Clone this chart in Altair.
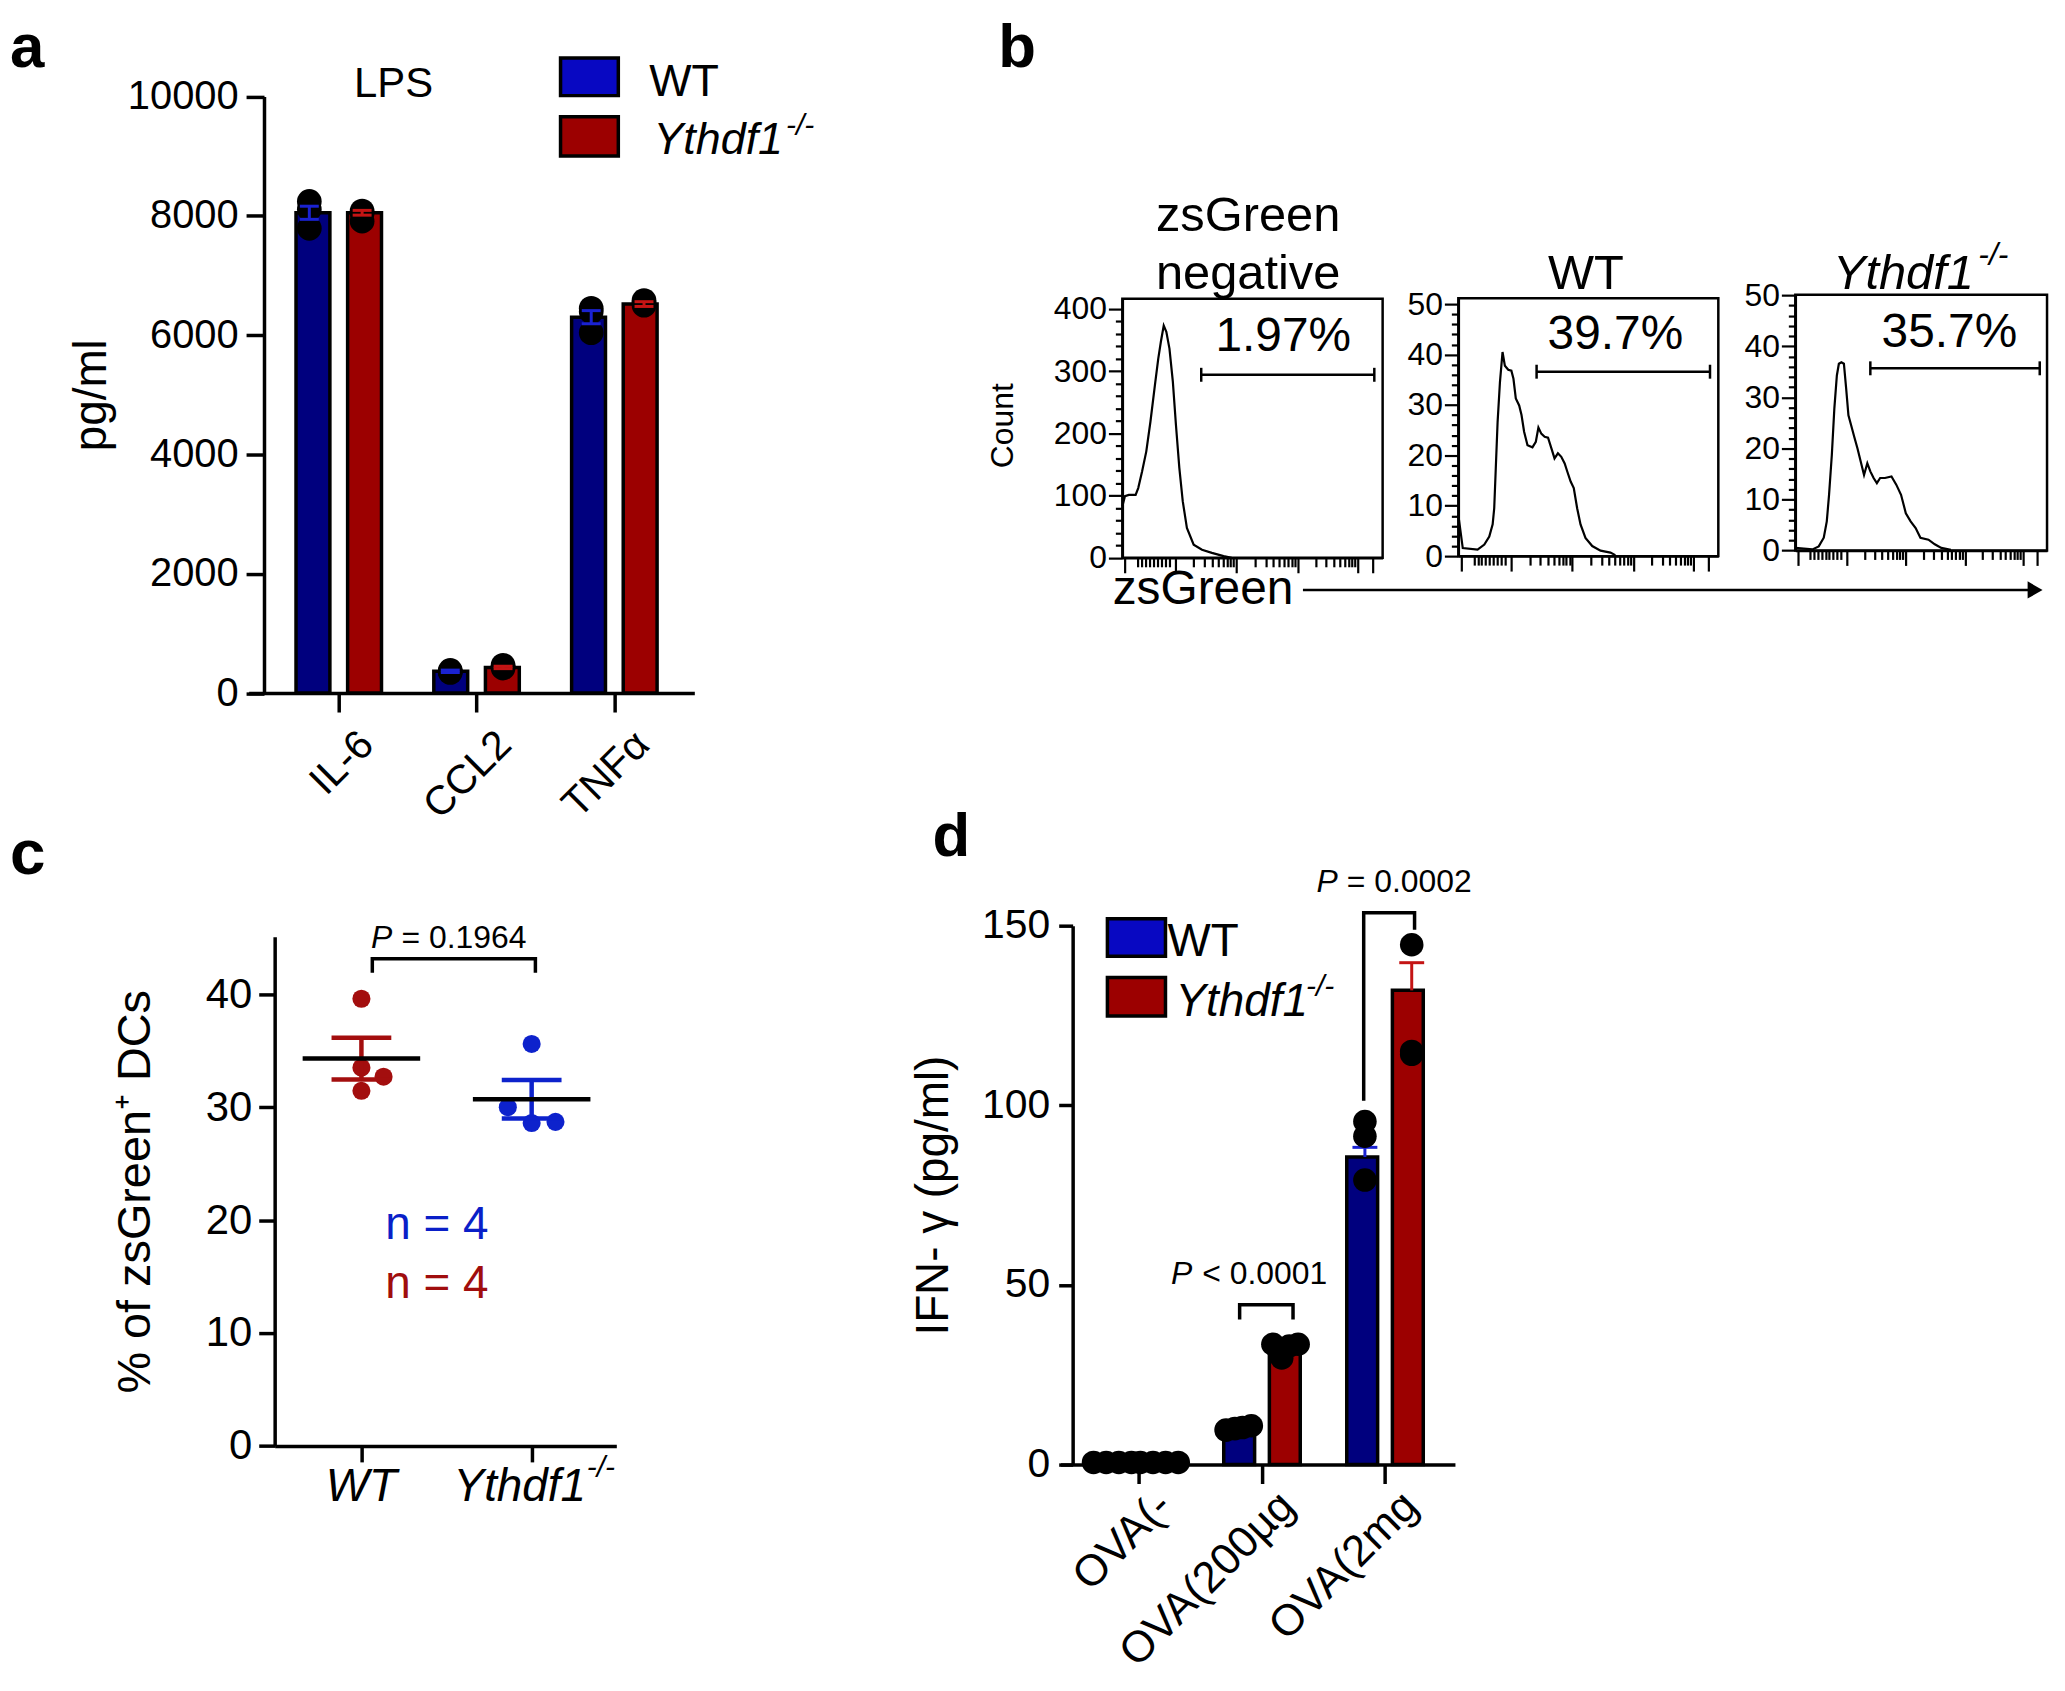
import json, math
import altair as alt
import pandas as pd

# ---------------- canvas / layout helpers ----------------
W, H = 2057, 1675
M = 8
def cx(v): return v - M
def cy(v): return v - M

FONT = "Liberation Sans"
WT_BAR, KO_BAR = "#00007e", "#9c0000"
WT_SW, KO_SW = "#0808c2", "#9c0000"
WT_ERR, KO_ERR = "#1a22d2", "#c41414"
BLUE_DOT, RED_DOT = "#0d22cc", "#a30e0e"

ONE = alt.Data(values=[{"k": 0}])

# ================= DATA =================
# ---- panel a ----
a_cats = ["IL-6", "CCL2", "TNFα"]
a_groups = ["WT", "KO"]
a_wt = [8050, 365, 6300]
a_ko = [8050, 430, 6520]
a_wt_hi = [8160, 385, 6410]
a_ko_hi = [8090, 450, 6560]
a_wt_pts = [[8240, 8110, 7790], [380, 360, 345], [6450, 6390, 6040]]
a_ko_pts = [[8080, 8040, 7910], [465, 440, 420], [6580, 6540, 6500]]

# ---- panel b (histograms, x = fraction of axis, y = count) ----
neg_x = [0, 0.01, 0.025, 0.051, 0.061, 0.076, 0.092, 0.108, 0.125, 0.138, 0.148, 0.159, 0.169, 0.181,
         0.194, 0.206, 0.219, 0.232, 0.248, 0.274, 0.306, 0.344, 0.389, 0.42]
neg_y = [83, 99, 101, 101, 112, 139, 171, 219, 277, 320, 347, 373, 363, 336,
         283, 213, 144, 91, 48, 21, 13, 8, 2.7, 0]
wt_x = [0, 0.017, 0.074, 0.1, 0.119, 0.132, 0.138, 0.144, 0.151, 0.16, 0.17, 0.179, 0.192, 0.204,
        0.212, 0.221, 0.234, 0.243, 0.253, 0.266, 0.285, 0.298, 0.308, 0.319, 0.332, 0.345, 0.358,
        0.37, 0.383, 0.396, 0.409, 0.419, 0.432, 0.444, 0.457, 0.47, 0.489, 0.515, 0.547, 0.585, 0.604]
wt_y = [8.2, 1.6, 1.3, 2.3, 3.9, 6.3, 9.5, 17.4, 26.6, 34.5, 40.5, 37.8, 37.0, 36.8,
        35.2, 31.3, 29.9, 28.0, 24.7, 22.0, 21.6, 22.7, 25.5, 24.3, 23.7, 23.5, 21.4,
        19.4, 20.4, 19.7, 18.4, 16.8, 14.8, 13.5, 9.5, 6.3, 3.6, 2.0, 1.1, 0.7, 0.2]
ko_x = [0, 0.068, 0.093, 0.113, 0.125, 0.134, 0.145, 0.155, 0.165, 0.173, 0.183, 0.193, 0.202, 0.211,
        0.222, 0.234, 0.247, 0.26, 0.273, 0.286, 0.298, 0.311, 0.324, 0.337, 0.356, 0.382, 0.401,
        0.42, 0.439, 0.458, 0.478, 0.497, 0.529, 0.554, 0.58, 0.618]
ko_y = [0.5, 0.2, 0.8, 2.5, 5.7, 10.9, 18.7, 27.8, 34.3, 36.6, 36.9, 36.6, 31.7, 26.5,
        24.5, 22.3, 20.0, 17.4, 14.8, 17.1, 15.5, 14.2, 13.2, 14.2, 14.2, 14.5, 12.9,
        10.9, 7.3, 5.7, 4.4, 2.5, 2.1, 1.2, 0.5, 0.1]
b_pct = ["1.97%", "39.7%", "35.7%"]
b_gate = [(0.303, 0.968, 294), (0.301, 0.968, 36.6), (0.298, 0.971, 35.7)]
b_pct_xy = [(0.618, 355), (0.604, 43.8), (0.612, 42.7)]

# ---- panel c ----
c_groups = ["WT", "Ythdf1-/-"]
c_pts = [[39.6, 33.5, 32.7, 31.45], [35.6, 30.0, 28.6, 28.7]]
c_mean = [34.3, 30.7]
c_sem = [1.85, 1.7]
c_bracket = [(0.064, 41.9), (0.064, 43.14), (1.022, 43.14), (1.022, 41.9)]

# ---- panel d ----
d_cats = ["OVA(-", "OVA(200µg", "OVA(2mg"]
d_wt = [0.6, 10.4, 85.6]
d_ko = [0.6, 32.3, 132.0]
d_wt_hi = [0.8, 10.8, 88.3]
d_ko_hi = [0.8, 32.8, 139.7]
d_wt_pts = [[0.6, 0.6, 0.6, 0.6], [9.6, 10.0, 10.3, 10.8], [95.5, 91.4, 79.2]]
d_ko_pts = [[0.6, 0.6, 0.6, 0.6], [33.5, 29.7, 33.0, 33.5], [144.7, 115.0, 114.2]]
d_brackets = [[(0.822, 40.4), (0.822, 44.5), (1.245, 44.5), (1.245, 40.4)],
              [(1.805, 101.3), (1.805, 153.6), (2.208, 153.6), (2.208, 148.9)]]

# point spreads (layout of overlapping dots, in category units)
c_spread = [[0, 0, 0.13, 0], [0, -0.14, 0, 0.14]]
d_spread = [[-0.15, -0.05, 0.05, 0.15], [-0.1, -0.03, 0.03, 0.1], [0, 0, 0]]

# ================= HELPERS =================
def lin(domain, rng):
    return alt.Scale(domain=list(domain), range=list(rng), nice=False, zero=False)

def ax(**kw):
    base = dict(domainColor="black", tickColor="black", labelColor="black", titleColor="black",
                labelFont=FONT, titleFont=FONT, grid=False, labelFlush=False, labelOverlap=False,
                titleFontWeight="normal", labelLimit=600)
    base.update(kw)
    return alt.Axis(**base)

def txt(s, x, y, size, style="normal", weight="normal", align="left", angle=0,
        color="black", baseline="alphabetic"):
    return alt.Chart(ONE).mark_text(text=s, fontSize=size, fontStyle=style, fontWeight=weight,
                                    align=align, baseline=baseline, angle=angle, color=color,
                                    font=FONT).encode(x=alt.value(cx(x)), y=alt.value(cy(y)))

def box(x0, x1, y0, y1, fill, sw=3.5):
    return alt.Chart(ONE).mark_rect(fill=fill, stroke="black", strokeWidth=sw).encode(
        x=alt.value(cx(x0)), x2=alt.value(cx(x1)), y=alt.value(cy(y0)), y2=alt.value(cy(y1)))

grp_fill = alt.Scale(domain=a_groups, range=[WT_BAR, KO_BAR])
grp_err = alt.Scale(domain=a_groups, range=[WT_ERR, KO_ERR])

layers = []

# ================= PANEL A =================
A_ORIG, A_UNIT = 337.0, 141.5
A_XL, A_XR, A_YAX = 249.6, 697.0, 265.0
A_Y0, A_YT = 692.5, 93.5
A_OFF = 26.5 / A_UNIT
a_xsc = lin([(A_XL - A_ORIG) / A_UNIT, (A_XR - A_ORIG) / A_UNIT], [cx(A_XL), cx(A_XR)])
a_ysc = lin([0, 10000], [cy(A_Y0), cy(A_YT)])

a_bar, a_pt, a_cap = [], [], []
for i, cat in enumerate(a_cats):
    for g, vals, hi, pts, sgn in [("WT", a_wt, a_wt_hi, a_wt_pts, -1), ("KO", a_ko, a_ko_hi, a_ko_pts, 1)]:
        pos = i + sgn * A_OFF
        lo = 2 * vals[i] - hi[i]
        a_bar.append({"g": g, "pos": pos, "v": vals[i], "hi": hi[i], "lo": lo})
        for p in pts[i]:
            a_pt.append({"g": g, "pos": pos, "v": p})
        a_cap += [{"g": g, "pos": pos, "v": hi[i]}, {"g": g, "pos": pos, "v": lo}]
a_bar, a_pt, a_cap = pd.DataFrame(a_bar), pd.DataFrame(a_pt), pd.DataFrame(a_cap)

a_xaxis = ax(orient="bottom", offset=cy(A_Y0) - H, values=[0, 1, 2],
             labelExpr=json.dumps(a_cats) + "[datum.value]", labelAngle=-45, labelAlign="right",
             labelBaseline="top", labelFontSize=41, labelPadding=12, labelOffset=14,
             tickSize=19, tickWidth=3.5, domainWidth=3.5, title="")
a_yaxis = ax(orient="left", offset=-cx(A_YAX), values=list(range(0, 10001, 2000)), format="d",
             labelFontSize=40, labelPadding=8, tickSize=18, tickWidth=3.5, domainWidth=3.5,
             title="pg/ml", titleFontSize=46, titlePadding=12)

layers.append(alt.Chart(a_bar).mark_bar(orient="vertical", size=34, stroke="black", strokeWidth=3.5).encode(
    x=alt.X("pos:Q", scale=a_xsc, axis=a_xaxis),
    y=alt.Y("v:Q", scale=a_ysc, axis=a_yaxis), y2=alt.datum(0),
    fill=alt.Fill("g:N", scale=grp_fill, legend=None)))
layers.append(alt.Chart(a_pt).mark_circle(size=615, color="black", opacity=1).encode(
    x=alt.X("pos:Q", scale=a_xsc, axis=None), y=alt.Y("v:Q", scale=a_ysc, axis=None)))
layers.append(alt.Chart(a_bar).mark_rule(strokeWidth=3).encode(
    x=alt.X("pos:Q", scale=a_xsc, axis=None), y=alt.Y("lo:Q", scale=a_ysc, axis=None), y2="hi:Q",
    color=alt.Color("g:N", scale=grp_err, legend=None)))
layers.append(alt.Chart(a_cap).mark_tick(orient="horizontal", size=19, thickness=3, opacity=1).encode(
    x=alt.X("pos:Q", scale=a_xsc, axis=None), y=alt.Y("v:Q", scale=a_ysc, axis=None),
    color=alt.Color("g:N", scale=grp_err, legend=None)))
layers += [
    box(562.7, 620.7, 55, 92.7, WT_SW), box(562.7, 620.7, 114, 153.3, KO_SW),
    txt("WT", 651.7, 93.3, 45), txt("Ythdf1", 656, 151, 45, style="italic"),
    txt("-/-", 789, 132, 30, style="italic"),
    txt("LPS", 395, 94.5, 42, align="center"),
    txt("a", 10, 64, 62, weight="bold"),
]

# ================= PANEL B =================
FLOW_MAJOR = [0.01, 0.204, 0.438, 0.674, 0.904, 0.962]
FLOW_TICKS = FLOW_MAJOR + [0.06, 0.075, 0.09, 0.105, 0.12, 0.135, 0.15, 0.165, 0.18]
for a0, a1 in [(0.204, 0.438), (0.438, 0.674), (0.674, 0.904)]:
    FLOW_TICKS += [round(a0 + (a1 - a0) * math.log10(k), 4) for k in range(2, 10)]
MAJOR_TEST = "indexof(" + json.dumps(FLOW_MAJOR) + ", datum.value) >= 0"

def flow_panel(hx, hy, L, R, T, B, ymax, ystep, ymajor, gate, pct, pxy):
    xs = lin([0, 1], [cx(L), cx(R)])
    ys = lin([0, ymax], [cy(B), cy(T)])
    yax = ax(orient="left", offset=-cx(L), values=list(range(0, int(ymax) + 1, ystep)),
             labelExpr=f"datum.value % {ymajor} == 0 ? datum.label : ''",
             tickSize={"condition": {"test": f"datum.value % {ymajor} == 0", "value": 14}, "value": 7},
             tickWidth=2.2, domainWidth=2.5, labelFontSize=32, labelPadding=2, title="")
    xax = ax(orient="bottom", offset=cy(B) - H, values=FLOW_TICKS, labels=False,
             tickSize={"condition": {"test": MAJOR_TEST, "value": 15}, "value": 9},
             tickWidth=2.2, domainWidth=2.5, title="")
    df = pd.DataFrame({"x": hx, "c": hy, "i": list(range(len(hx)))})
    gdf = pd.DataFrame([{"x0": gate[0], "x1": gate[1], "gy": gate[2]}])
    edf = pd.DataFrame([{"x": gate[0], "gy": gate[2]}, {"x": gate[1], "gy": gate[2]}])
    tdf = pd.DataFrame([{"x": pxy[0], "y": pxy[1], "t": pct}])
    return [
        alt.Chart(ONE).mark_rect(fillOpacity=0, stroke="black", strokeWidth=2.5).encode(
            x=alt.XDatum(0, scale=xs, axis=None), x2=alt.datum(1),
            y=alt.YDatum(0, scale=ys, axis=None), y2=alt.datum(ymax)),
        alt.Chart(df).mark_line(color="black", strokeWidth=2.2).encode(
            x=alt.X("x:Q", scale=xs, axis=xax), y=alt.Y("c:Q", scale=ys, axis=yax), order="i:Q"),
        alt.Chart(gdf).mark_rule(color="black", strokeWidth=2.5).encode(
            x=alt.X("x0:Q", scale=xs, axis=None), x2="x1:Q", y=alt.Y("gy:Q", scale=ys, axis=None)),
        alt.Chart(edf).mark_tick(orient="vertical", size=14, thickness=2.5, color="black", opacity=1).encode(
            x=alt.X("x:Q", scale=xs, axis=None), y=alt.Y("gy:Q", scale=ys, axis=None)),
        alt.Chart(tdf).mark_text(fontSize=48, font=FONT, align="center", baseline="middle", color="black").encode(
            x=alt.X("x:Q", scale=xs, axis=None), y=alt.Y("y:Q", scale=ys, axis=None), text="t:N"),
    ]

layers += flow_panel(neg_x, neg_y, 1126.7, 1388, 296.7, 556.7, 416, 20, 100, b_gate[0], b_pct[0], b_pct_xy[0])
layers += flow_panel(wt_x, wt_y, 1464, 1725, 296, 555, 51.2, 2, 10, b_gate[1], b_pct[1], b_pct_xy[1])
layers += flow_panel(ko_x, ko_y, 1802.3, 2055, 292.7, 549.3, 50.1, 2, 10, b_gate[2], b_pct[2], b_pct_xy[2])
layers += [
    txt("zsGreen", 1253, 229, 49, align="center"),
    txt("negative", 1253, 287, 49, align="center"),
    txt("WT", 1592, 287, 49, align="center"),
    txt("Ythdf1", 1840, 287, 49, style="italic"),
    txt("-/-", 1986, 263, 32, style="italic"),
    txt("Count", 1007, 424, 32, align="center", baseline="middle", angle=270),
    txt("zsGreen", 1117, 603, 48),
    alt.Chart(ONE).mark_rule(color="black", strokeWidth=2.5).encode(
        x=alt.value(cx(1308)), x2=alt.value(cx(2040)), y=alt.value(cy(589))),
    alt.Chart(ONE).mark_point(shape="triangle-right", filled=True, size=300, color="black", opacity=1).encode(
        x=alt.value(cx(2043)), y=alt.value(cy(589))),
    txt("b", 1002, 64, 62, weight="bold"),
]

# ================= PANEL C =================
C_ORIG, C_UNIT = 362.8, 170.9
C_XL, C_XR = 275.7, 618.7
C_Y0, C_YT = 1448.3, 937.0
c_xsc = lin([(C_XL - C_ORIG) / C_UNIT, (C_XR - C_ORIG) / C_UNIT], [cx(C_XL), cx(C_XR)])
c_ysc = lin([0, 45.1], [cy(C_Y0), cy(C_YT)])
c_col = alt.Scale(domain=c_groups, range=[RED_DOT, BLUE_DOT])

c_pt, c_stat, c_cap = [], [], []
for i, g in enumerate(c_groups):
    for v, s in zip(c_pts[i], c_spread[i]):
        c_pt.append({"g": g, "pos": i + s, "v": v})
    c_stat.append({"g": g, "pos": i, "m": c_mean[i], "lo": c_mean[i] - c_sem[i], "hi": c_mean[i] + c_sem[i]})
    c_cap += [{"g": g, "pos": i, "v": c_mean[i] - c_sem[i]}, {"g": g, "pos": i, "v": c_mean[i] + c_sem[i]}]
c_pt, c_stat, c_cap = pd.DataFrame(c_pt), pd.DataFrame(c_stat), pd.DataFrame(c_cap)
c_br = pd.DataFrame([{"x": p[0], "y": p[1], "i": k} for k, p in enumerate(c_bracket)])

c_xaxis = ax(orient="bottom", offset=cy(C_Y0) - H, values=[0, 1], labels=False, tickSize=16,
             tickWidth=3.5, domainWidth=3.5, title="")
c_yaxis = ax(orient="left", offset=-cx(C_XL), values=[0, 10, 20, 30, 40], labelFontSize=42,
             labelPadding=7, tickSize=16, tickWidth=3.5, domainWidth=3.5,
             title="% of zsGreen⁺ DCs", titleFontSize=47, titlePadding=46)

layers.append(alt.Chart(c_pt).mark_circle(size=330, opacity=1).encode(
    x=alt.X("pos:Q", scale=c_xsc, axis=c_xaxis), y=alt.Y("v:Q", scale=c_ysc, axis=c_yaxis),
    color=alt.Color("g:N", scale=c_col, legend=None)))
layers.append(alt.Chart(c_stat).mark_rule(strokeWidth=4.5).encode(
    x=alt.X("pos:Q", scale=c_xsc, axis=None), y=alt.Y("lo:Q", scale=c_ysc, axis=None), y2="hi:Q",
    color=alt.Color("g:N", scale=c_col, legend=None)))
layers.append(alt.Chart(c_cap).mark_tick(orient="horizontal", size=60, thickness=4.5, opacity=1).encode(
    x=alt.X("pos:Q", scale=c_xsc, axis=None), y=alt.Y("v:Q", scale=c_ysc, axis=None),
    color=alt.Color("g:N", scale=c_col, legend=None)))
layers.append(alt.Chart(c_stat).mark_tick(orient="horizontal", size=118, thickness=4.5, color="black", opacity=1).encode(
    x=alt.X("pos:Q", scale=c_xsc, axis=None), y=alt.Y("m:Q", scale=c_ysc, axis=None)))
layers.append(alt.Chart(c_br).mark_line(color="black", strokeWidth=3.5).encode(
    x=alt.X("x:Q", scale=c_xsc, axis=None), y=alt.Y("y:Q", scale=c_ysc, axis=None), order="i:Q"))
layers += [
    txt("P", 372.5, 948, 32, style="italic"), txt("= 0.1964", 403, 948, 32),
    txt("n = 4", 438.5, 1241, 46, align="center", color="#0a1fc8"),
    txt("n = 4", 438.5, 1300, 46, align="center", color="#a00d0d"),
    txt("WT", 362.8, 1504, 46, style="italic", align="center"),
    txt("Ythdf1", 521.8, 1504, 46, style="italic", align="center"),
    txt("-/-", 589, 1479, 30, style="italic"),
    txt("c", 10, 874, 64, weight="bold"),
]

# ================= PANEL D =================
D_ORIG, D_UNIT = 1140.3, 126.7
D_XL, D_XR, D_YAX = 1064.6, 1460.6, 1076.8
D_Y0, D_YT = 1467.0, 926.0
D_OFF = 23.5 / D_UNIT
d_xsc = lin([(D_XL - D_ORIG) / D_UNIT, (D_XR - D_ORIG) / D_UNIT], [cx(D_XL), cx(D_XR)])
d_ysc = lin([0, 150], [cy(D_Y0), cy(D_YT)])

d_bar, d_pt, d_cap = [], [], []
for i, cat in enumerate(d_cats):
    for g, vals, hi, pts, sgn in [("WT", d_wt, d_wt_hi, d_wt_pts, -1), ("KO", d_ko, d_ko_hi, d_ko_pts, 1)]:
        pos = i + sgn * D_OFF
        d_bar.append({"g": g, "pos": pos, "v": vals[i], "hi": hi[i]})
        for v, s in zip(pts[i], d_spread[i]):
            d_pt.append({"g": g, "pos": pos + s, "v": v})
        d_cap.append({"g": g, "pos": pos, "v": hi[i]})
d_bar, d_pt, d_cap = pd.DataFrame(d_bar), pd.DataFrame(d_pt), pd.DataFrame(d_cap)
d_br = pd.DataFrame([{"x": p[0], "y": p[1], "b": j, "i": k}
                     for j, br in enumerate(d_brackets) for k, p in enumerate(br)])

d_xaxis = ax(orient="bottom", offset=cy(D_Y0) - H, values=[0, 1, 2],
             labelExpr=json.dumps(d_cats) + "[datum.value]", labelAngle=-45, labelAlign="right",
             labelBaseline="top", labelFontSize=44, labelPadding=0, labelOffset=10,
             tickSize=19, tickWidth=3.5, domainWidth=3.5, title="")
d_yaxis = ax(orient="left", offset=-cx(D_YAX), values=[0, 50, 100, 150], labelFontSize=41,
             labelPadding=9, tickSize=14, tickWidth=3.5, domainWidth=3.5,
             title="IFN- γ (pg/ml)", titleFontSize=46, titlePadding=24)

layers.append(alt.Chart(d_bar).mark_bar(orient="vertical", size=31, stroke="black", strokeWidth=3.5).encode(
    x=alt.X("pos:Q", scale=d_xsc, axis=d_xaxis),
    y=alt.Y("v:Q", scale=d_ysc, axis=d_yaxis), y2=alt.datum(0),
    fill=alt.Fill("g:N", scale=grp_fill, legend=None)))
layers.append(alt.Chart(d_bar).mark_rule(strokeWidth=3).encode(
    x=alt.X("pos:Q", scale=d_xsc, axis=None), y=alt.Y("v:Q", scale=d_ysc, axis=None), y2="hi:Q",
    color=alt.Color("g:N", scale=grp_err, legend=None)))
layers.append(alt.Chart(d_cap).mark_tick(orient="horizontal", size=25, thickness=3, opacity=1).encode(
    x=alt.X("pos:Q", scale=d_xsc, axis=None), y=alt.Y("v:Q", scale=d_ysc, axis=None),
    color=alt.Color("g:N", scale=grp_err, legend=None)))
layers.append(alt.Chart(d_pt).mark_circle(size=560, color="black", opacity=1).encode(
    x=alt.X("pos:Q", scale=d_xsc, axis=None), y=alt.Y("v:Q", scale=d_ysc, axis=None)))
layers.append(alt.Chart(d_br).mark_line(color="black", strokeWidth=3.5).encode(
    x=alt.X("x:Q", scale=d_xsc, axis=None), y=alt.Y("y:Q", scale=d_ysc, axis=None),
    detail="b:N", order="i:Q"))
layers += [
    box(1111.7, 1170, 919, 956.7, WT_SW), box(1111.7, 1170, 978, 1016.7, KO_SW),
    txt("WT", 1172, 956.7, 46), txt("Ythdf1", 1180, 1016.7, 46, style="italic"),
    txt("-/-", 1311, 997, 30, style="italic"),
    txt("P", 1175.5, 1286, 32, style="italic"), txt("< 0.0001", 1207, 1286, 32),
    txt("P", 1321.7, 892, 32, style="italic"), txt("= 0.0002", 1352, 892, 32),
    txt("d", 936, 856, 62, weight="bold"),
]

chart = alt.layer(*layers).properties(
    width=W, height=H, padding=0, autosize=alt.AutoSizeParams(type="none"), background="white"
).resolve_scale(x="independent", y="independent", color="independent", fill="independent"
).resolve_axis(x="independent", y="independent"
).configure_view(stroke="transparent", strokeWidth=0)

chart.save("out.html", embed_options={"renderer": "svg", "actions": False})
